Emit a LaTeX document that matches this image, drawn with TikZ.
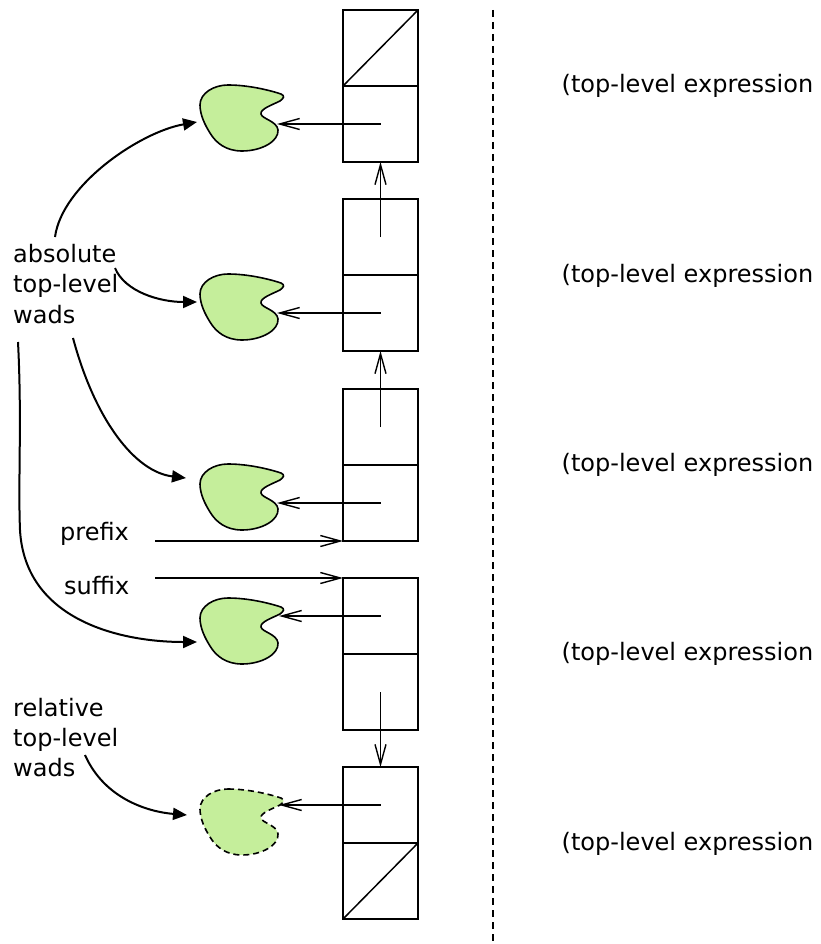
\documentclass[tikz,border=0pt]{standalone}
\usepackage{fontspec}
\setmainfont{DejaVu Sans}
\usetikzlibrary{arrows.meta}
\definecolor{blobgreen}{RGB}{197,238,155}
\begin{document}
\begin{tikzpicture}[x=1pt,y=-1pt,
  cell/.style={draw, line width=1.6pt, minimum width=75pt, minimum height=76pt, inner sep=0pt, outer sep=0pt},
  ptr/.style={line width=1.4pt, -{Straight Barb[length=20pt,width=11pt]}},
  curv/.style={line width=2pt, -{Triangle[length=14pt,width=12pt]}},
  lbl/.style={font=\fontsize{24}{30}\selectfont, inner sep=0pt, anchor=base west},
  blobsolid/.style={fill=blobgreen, line width=1.6pt, draw},
  blobdash/.style={fill=blobgreen, line width=1.6pt, draw, dash pattern=on 6pt off 4pt},
  blob/.pic={\path[pic actions] (28,0) .. controls (50,0) and (72,6) .. (81,9)
     .. controls (85,11) and (84,13) .. (80,16)
     .. controls (72,20) and (60,24) .. (61,29)
     .. controls (62,34) and (77,36) .. (78,45)
     .. controls (79,56) and (62,66) .. (42,66)
     .. controls (26,66) and (16,58) .. (10,48)
     .. controls (5,40) and (0,30) .. (0,20)
     .. controls (0,8) and (14,0) .. (28,0) -- cycle;}
]
\useasboundingbox (0,0) rectangle (820,944);

% dashed separator
\coordinate (dtop) at (493,10);
\coordinate (dbot) at (493,944);
\draw[line width=1.3pt, dash pattern=on 7pt off 5pt] (dtop) -- (dbot);

% blobs
\pic[blobsolid] at (200,85) {blob};
\pic[blobsolid] at (200,274) {blob};
\pic[blobsolid] at (200,464) {blob};
\pic[blobsolid] at (200,598) {blob};
\pic[blobdash] at (200,789) {blob};

% cells
\node[cell] (b1t) at (380.5,48) {};
\node[cell] (b1b) at (380.5,124) {};
\node[cell] (b2t) at (380.5,237) {};
\node[cell] (b2b) at (380.5,313) {};
\node[cell] (b3t) at (380.5,427) {};
\node[cell] (b3b) at (380.5,503) {};
\node[cell] (b4t) at (380.5,616) {};
\node[cell] (b4b) at (380.5,692) {};
\node[cell] (b5t) at (380.5,805) {};
\node[cell] (b5b) at (380.5,881) {};
\draw[line width=1.5pt] (b1t.south west) -- (b1t.north east);
\draw[line width=1.5pt] (b5b.south west) -- (b5b.north east);

% blob targets
\coordinate (t1) at (277,124);
\coordinate (t2) at (277,313);
\coordinate (t3) at (277,503);
\coordinate (t4) at (279,616);
\coordinate (t5) at (279,805);

% pointers
\draw[ptr] (b1b.center) -- (t1);
\draw[ptr] (b2t.center) -- (b1b.south);
\draw[ptr] (b2b.center) -- (t2);
\draw[ptr] (b3t.center) -- (b2b.south);
\draw[ptr] (b3b.center) -- (t3);
\draw[ptr] (b4t.center) -- (t4);
\draw[ptr] (b4b.center) -- (b5t.north);
\draw[ptr] (b5t.center) -- (t5);

% prefix / suffix
\coordinate (pfs) at (155,541);
\coordinate (sfs) at (155,578);
\draw[ptr] (pfs) -- (b3b.south west);
\draw[ptr] (sfs) -- (b4t.north west);
\node[lbl] (pre) at (60,540) {prefix};
\node[lbl] (suf) at (64,594) {suffix};

% labels
\node[lbl] (abs1) at (13,262) {absolute};
\node[lbl] (abs2) at (13,292.5) {top-level};
\node[lbl] (abs3) at (13,323) {wads};
\node[lbl] (rel1) at (13,716) {relative};
\node[lbl] (rel2) at (13,746) {top-level};
\node[lbl] (rel3) at (13,776) {wads};

% expression labels
\node[lbl] (e1) at (561.5,93) {(top-level expression};
\node[lbl] (e2) at (561.5,282.3) {(top-level expression};
\node[lbl] (e3) at (561.5,471.6) {(top-level expression};
\node[lbl] (e4) at (561.5,660.9) {(top-level expression};
\node[lbl] (e5) at (561.5,850.2) {(top-level expression};

% curved arrows
\coordinate (c1s) at (55,237);   \coordinate (c1e) at (197,122);
\coordinate (c2s) at (115,268);  \coordinate (c2e) at (197,302);
\coordinate (c3s) at (73,338);   \coordinate (c3e) at (186,478);
\coordinate (c4s) at (18,342);   \coordinate (c4e) at (197,642);
\coordinate (c5s) at (85,755);   \coordinate (c5e) at (187,815);
\draw[curv] (c1s) .. controls (62,185) and (140,132) .. (c1e);
\draw[curv] (c2s) .. controls (125,292) and (160,302) .. (c2e);
\draw[curv] (c3s) .. controls (95,420) and (135,472) .. (c3e);
\draw[curv] (c4s) .. controls (22,420) and (18,480) .. (20,530) .. controls (25,620) and (120,642) .. (c4e);
\draw[curv] (c5s) .. controls (105,800) and (150,812) .. (c5e);
\end{tikzpicture}
\end{document}
